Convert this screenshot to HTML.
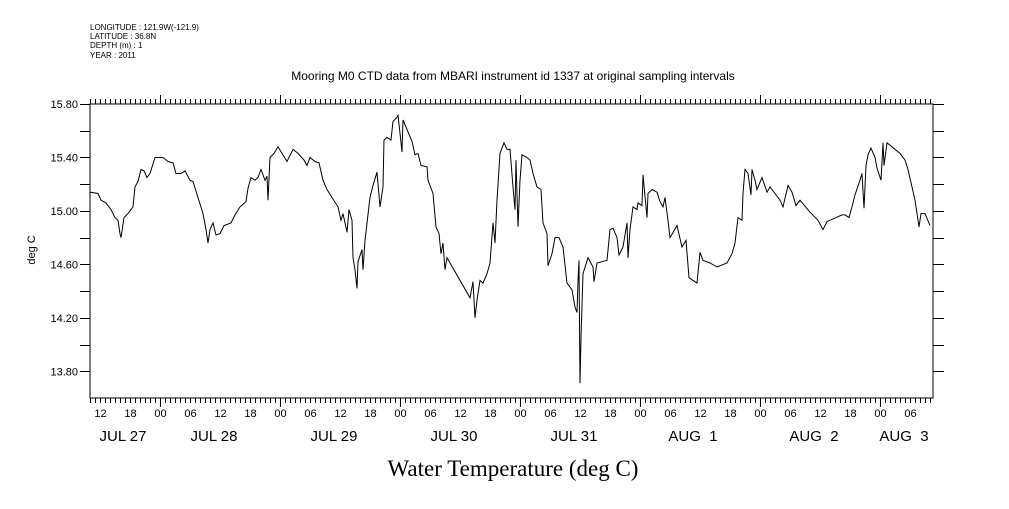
<!DOCTYPE html>
<html><head><meta charset="utf-8"><style>
body{margin:0;background:#fff;}
svg text{font-family:"Liberation Sans",sans-serif;fill:#000;}
</style></head><body>
<svg width="1009" height="504" viewBox="0 0 1009 504" xmlns="http://www.w3.org/2000/svg">
<g font-size="8">
<text x="90" y="30">LONGITUDE : 121.9W(-121.9)</text>
<text x="90" y="39">LATITUDE : 36.8N</text>
<text x="90" y="48">DEPTH (m) : 1</text>
<text x="90" y="58">YEAR : 2011</text>
</g>
<text x="513" y="80" font-size="12" text-anchor="middle">Mooring M0 CTD data from MBARI instrument id 1337 at original sampling intervals</text>
<text x="0" y="0" font-size="11" text-anchor="middle" transform="translate(35,250) rotate(-90)">deg C</text>
<text x="513" y="476" font-size="23" text-anchor="middle" style="font-family:'Liberation Serif',serif">Water Temperature (deg C)</text>
<rect x="90" y="104" width="843" height="294" fill="none" stroke="#000" stroke-width="1"/>
<g id="axes"></g>
<path id="series" fill="none" stroke="#000" stroke-width="1"/>
</svg>
<script>
const hours=[10.1,11.6,12.2,13.2,14.2,15,15.6,16,16.2,16.8,17.6,18.6,19,19.6,20.2,20.8,21.4,22,23,24.6,25.6,26.6,27.2,28.2,29,30,30.6,31.6,32.6,33.2,33.6,34,34.6,35.2,36,36.8,38.2,39,40,41.2,41.6,42.2,43,43.6,44.2,45,45.4,45.6,46,46.8,47.6,48.4,49.4,50.6,51.6,52.8,53.4,54,55,55.8,56.6,57.4,58.4,59.6,60.2,60.6,61.4,61.8,62.4,62.6,63,63.4,63.6,64.4,64.6,65,66,66.6,67.4,68,68.6,68.8,69.4,70.2,70.6,71.4,71.6,72.4,72.6,73.4,74.4,75,75.6,76.2,77.4,77.6,78.6,79.2,79.8,80.2,80.6,81,81.4,86,86.6,87,87.4,88,88.6,89.4,90,90.6,91,91.4,92,92.8,93.4,94,94.6,95,95.2,95.6,96,96.4,97.4,98,98.6,99.4,100.2,100.6,101.4,101.6,102.4,103,103.8,104.6,105.4,106.4,107,107.4,107.6,107.8,108,108.2,108.6,109.6,110.6,110.8,111.4,112.4,113.4,114,114.6,115.4,115.8,116.6,117.4,117.6,118,118.6,119.4,119.6,120.4,120.6,121.4,121.6,122.4,123.4,124,124.6,125,125.6,126,127.4,128.4,129.2,129.8,130.6,131.4,132,132.6,134,135.4,137.4,138.4,139,139.6,140.4,140.6,141,141.6,142.2,142.4,143,143.4,144.4,145.4,146,147,148,148.6,149.6,150.4,151.2,152,154,155.6,156.6,157.4,158.6,160.4,161,161.8,162.4,163,164,164.4,164.8,165.2,165.6,166.2,167,167.4,168.2,168.6,168.8,169.4,170.4,172,173,173.6,174.4,175,175.8,176.2,177,178];
const temps=[15.14,15.13,15.08,15.06,15.01,14.95,14.93,14.83,14.80,14.95,14.98,15.03,15.18,15.22,15.31,15.30,15.25,15.28,15.40,15.40,15.37,15.36,15.28,15.28,15.30,15.23,15.22,15.10,14.98,14.86,14.76,14.86,14.91,14.82,14.83,14.89,14.91,14.97,15.03,15.07,15.17,15.25,15.23,15.25,15.31,15.23,15.26,15.08,15.40,15.43,15.48,15.43,15.37,15.46,15.43,15.38,15.34,15.40,15.37,15.36,15.23,15.16,15.10,15.03,14.93,14.98,14.84,15.01,14.93,14.65,14.56,14.42,14.62,14.71,14.56,14.78,15.10,15.19,15.29,15.03,15.18,15.53,15.55,15.53,15.67,15.70,15.72,15.44,15.68,15.61,15.52,15.42,15.43,15.34,15.33,15.23,15.13,14.88,14.83,14.68,14.76,14.56,14.65,14.35,14.47,14.20,14.33,14.48,14.46,14.53,14.61,14.91,14.76,15.08,15.43,15.51,15.46,15.46,15.18,15.01,15.38,14.88,15.23,15.42,15.40,15.38,15.28,15.18,15.16,14.91,14.83,14.59,14.68,14.80,14.80,14.73,14.46,14.41,14.28,14.24,14.48,14.63,13.71,14.05,14.53,14.65,14.58,14.47,14.61,14.62,14.63,14.86,14.87,14.80,14.67,14.73,14.91,14.65,14.86,15.03,15.01,15.06,15.04,15.27,14.95,15.13,15.16,15.14,15.07,15.03,15.10,14.93,14.80,14.89,14.73,14.78,14.50,14.48,14.46,14.69,14.63,14.61,14.58,14.61,14.68,14.76,14.95,14.93,15.13,15.31,15.28,15.12,15.31,15.23,15.16,15.25,15.14,15.18,15.13,15.08,15.03,15.19,15.14,15.04,15.08,14.99,14.93,14.86,14.92,14.94,14.97,14.97,14.95,15.03,15.12,15.23,15.28,15.02,15.34,15.42,15.47,15.40,15.32,15.23,15.51,15.34,15.51,15.48,15.43,15.38,15.31,15.18,15.08,14.88,14.98,14.98,14.89];
const yTickLabels=["15.80","15.40","15.00","14.60","14.20","13.80"];
const dayLabels=["JUL 27","JUL 28","JUL 29","JUL 30","JUL 31","AUG  1","AUG  2","AUG  3"];
const dayLabelHours=[16.6,34.8,58.8,82.8,106.8,130.6,154.8,172.8];

const L=90,R=933,T=104,B=398,H0=10,H1=178.6,V0=13.6,V1=15.8;
const xs=h=>L+(h-H0)*(R-L)/(H1-H0);
const ys=v=>B-(v-V0)*(B-T)/(V1-V0);
const NS="http://www.w3.org/2000/svg";
const ax=document.getElementById('axes');
function mk(tag,attrs,txt){const e=document.createElementNS(NS,tag);for(const k in attrs)e.setAttribute(k,attrs[k]);if(txt!==undefined)e.textContent=txt;ax.appendChild(e);return e;}
let d='';
for(let h=Math.ceil(H0);h<=H1;h++){
  const x=Math.round(xs(h))+0.5;const major=(h%24===0);const len=major?9:5;
  d+=`M${x},${T}V${T-len}M${x},${B}V${B+len}`;
  if(h%6===0){const t=mk('text',{x:x,y:417,'font-size':11,'text-anchor':'middle'},String(h%24).padStart(2,'0'));
  
  }
}
for(let v=13.8;v<=15.801;v+=0.2){const y=Math.round(ys(v))+0.5;d+=`M${L},${y}H${L-10}M${R},${y}H${R+11}`;}
mk('path',{d:d,stroke:'#000','stroke-width':1,fill:'none',});
yTickLabels.forEach(s=>{const t=mk('text',{x:78,y:ys(parseFloat(s))+4,'font-size':11,'text-anchor':'end'},s);

});
dayLabels.forEach((s,i)=>{const t=mk('text',{x:xs(dayLabelHours[i]),y:441,'font-size':15,'text-anchor':'middle'},s);
t.style.whiteSpace='pre';

});
let p='';hours.forEach((h,i)=>{p+=(i?'L':'M')+xs(h).toFixed(1)+','+ys(temps[i]).toFixed(1);});
document.getElementById('series').setAttribute('d',p);
</script>
</body></html>
